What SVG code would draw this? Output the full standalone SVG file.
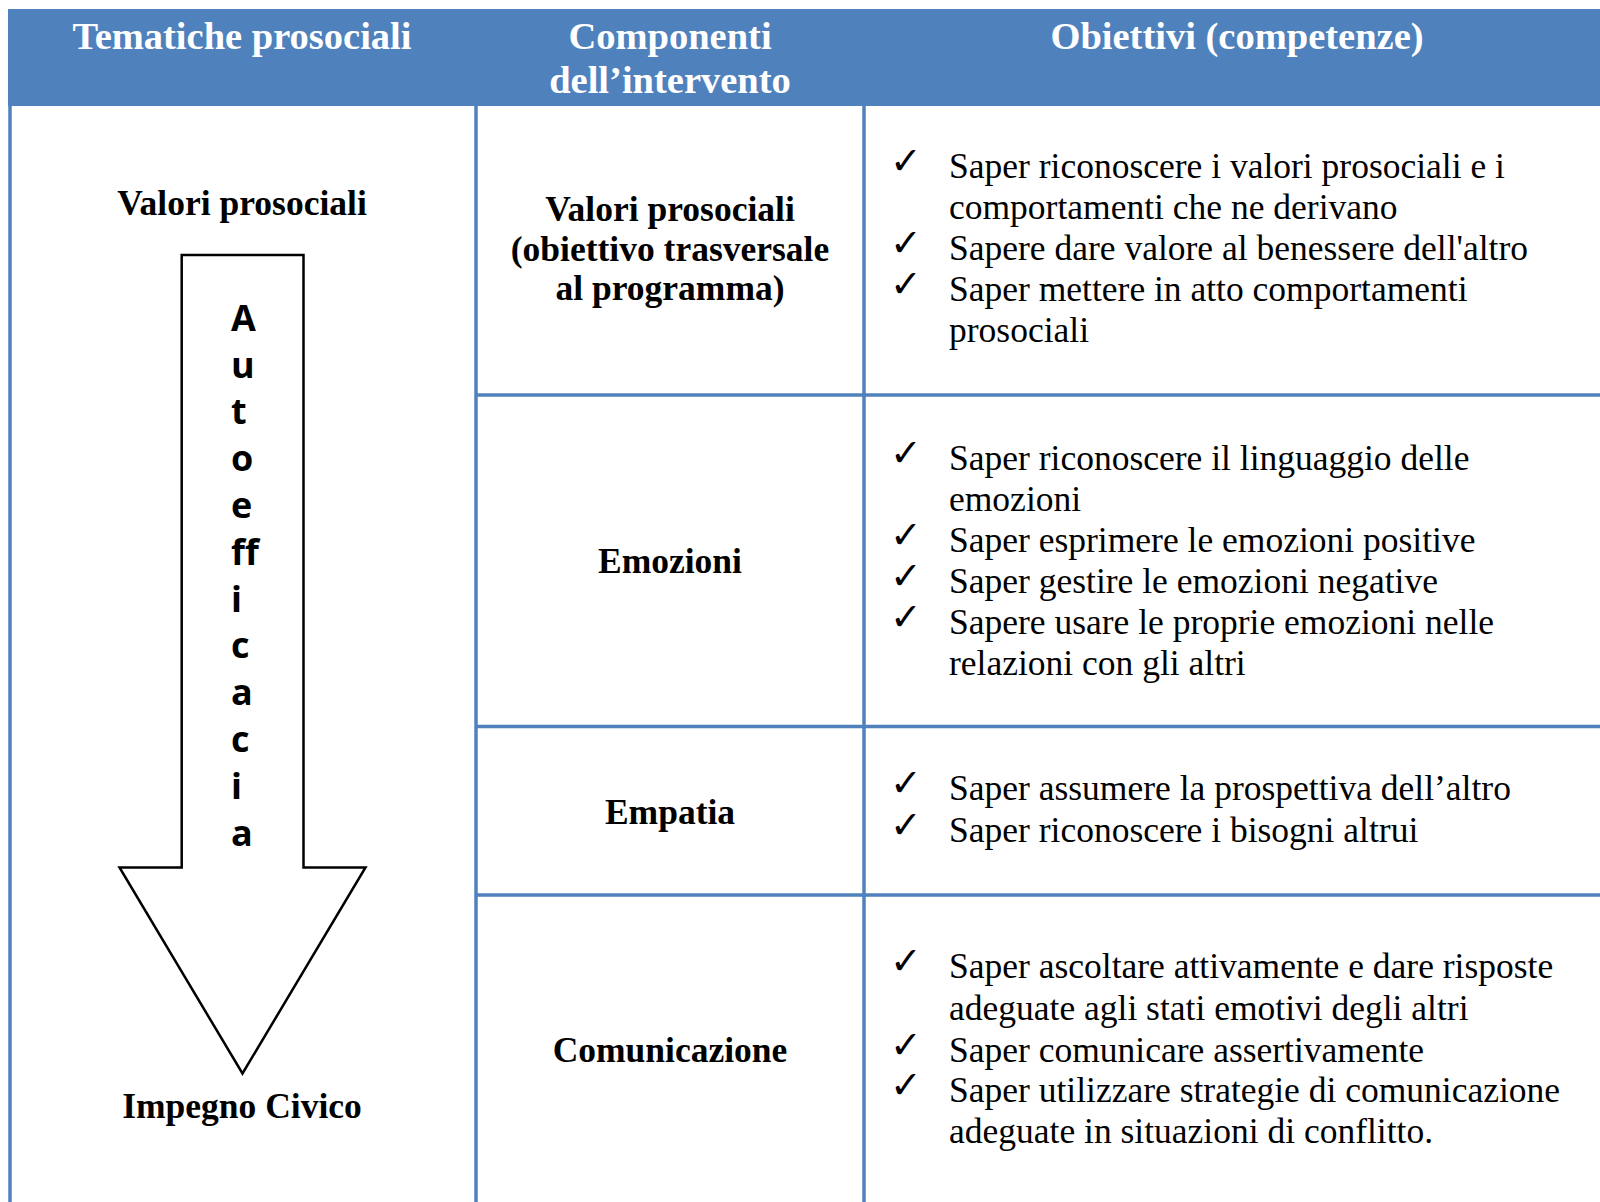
<svg xmlns="http://www.w3.org/2000/svg" width="1600" height="1202" viewBox="0 0 1600 1202">
<style>
.hdr{font-family:"Liberation Serif","Times New Roman",serif;font-weight:bold;font-size:38.5px;fill:#ffffff;text-anchor:middle}
.lbl{font-family:"Liberation Serif","Times New Roman",serif;font-weight:bold;font-size:35.5px;fill:#000000;text-anchor:middle}
.item{font-family:"Liberation Serif","Times New Roman",serif;font-size:35.5px;fill:#000000}
.chk{font-family:"DejaVu Sans",sans-serif;font-size:38px;fill:#000000}
.vert{font-family:"Open Sans","DejaVu Sans",sans-serif;font-weight:bold;font-size:36px;fill:#000000}
.grid{stroke:#4F81BD;stroke-width:3.5;fill:none}
</style>
<rect x="0" y="0" width="1600" height="1202" fill="#ffffff"/>
<g id="header">
<rect x="8" y="9" width="1592" height="97" fill="#4F81BD"/>
<text class="hdr" x="242" y="49">Tematiche prosociali</text>
<text class="hdr" x="670" y="49">Componenti</text>
<text class="hdr" x="670" y="93">dell’intervento</text>
<text class="hdr" x="1237" y="49">Obiettivi (competenze)</text>
</g>
<g id="grid">
<line class="grid" x1="10" y1="106" x2="10" y2="1202"/>
<line class="grid" x1="476" y1="106" x2="476" y2="1202"/>
<line class="grid" x1="864" y1="106" x2="864" y2="1202"/>
<line class="grid" x1="476" y1="395" x2="1600" y2="395"/>
<line class="grid" x1="476" y1="726.5" x2="1600" y2="726.5"/>
<line class="grid" x1="476" y1="895" x2="1600" y2="895"/>
</g>
<g id="tematiche">
<text class="lbl" x="242" y="215">Valori prosociali</text>
<polygon points="181.7,255 303.5,255 303.5,867.5 365.5,867.5 242.5,1073.5 119.5,867.5 181.7,867.5" fill="#ffffff" stroke="#000000" stroke-width="2.5" stroke-linejoin="miter"/>
<g class="vert">
<text x="231" y="330.7">A</text>
<text x="231" y="377.5">u</text>
<text x="231" y="424.3">t</text>
<text x="231" y="471.1">o</text>
<text x="231" y="517.9">e</text>
<text x="231" y="564.7">ff</text>
<text x="231" y="611.5">i</text>
<text x="231" y="658.3">c</text>
<text x="231" y="705.1">a</text>
<text x="231" y="751.9">c</text>
<text x="231" y="798.7">i</text>
<text x="231" y="845.5">a</text>
</g>
<text class="lbl" x="242" y="1118">Impegno Civico</text>
</g>
<g id="comp-valori">
<text class="lbl" x="670" y="221">Valori prosociali</text>
<text class="lbl" x="670" y="261">(obiettivo trasversale</text>
<text class="lbl" x="670" y="300">al programma)</text>
</g>
<g id="comp-emozioni"><text class="lbl" x="670" y="573">Emozioni</text></g>
<g id="comp-empatia"><text class="lbl" x="670" y="824">Empatia</text></g>
<g id="comp-comunicazione"><text class="lbl" x="670" y="1062">Comunicazione</text></g>
<g id="obj-valori">
<text class="chk" x="890" y="174">✓</text>
<text class="item" x="949" y="178">Saper riconoscere i valori prosociali e i</text>
<text class="item" x="949" y="219">comportamenti che ne derivano</text>
<text class="chk" x="890" y="256">✓</text>
<text class="item" x="949" y="260">Sapere dare valore al benessere dell'altro</text>
<text class="chk" x="890" y="297">✓</text>
<text class="item" x="949" y="301">Saper mettere in atto comportamenti</text>
<text class="item" x="949" y="341.5">prosociali</text>
</g>
<g id="obj-emozioni">
<text class="chk" x="890" y="466">✓</text>
<text class="item" x="949" y="470">Saper riconoscere il linguaggio delle</text>
<text class="item" x="949" y="510.5">emozioni</text>
<text class="chk" x="890" y="547.5">✓</text>
<text class="item" x="949" y="551.5">Saper esprimere le emozioni positive</text>
<text class="chk" x="890" y="589">✓</text>
<text class="item" x="949" y="593">Saper gestire le emozioni negative</text>
<text class="chk" x="890" y="629.5">✓</text>
<text class="item" x="949" y="633.5">Sapere usare le proprie emozioni nelle</text>
<text class="item" x="949" y="675">relazioni con gli altri</text>
</g>
<g id="obj-empatia">
<text class="chk" x="890" y="796">✓</text>
<text class="item" x="949" y="800">Saper assumere la prospettiva dell’altro</text>
<text class="chk" x="890" y="837.5">✓</text>
<text class="item" x="949" y="841.5">Saper riconoscere i bisogni altrui</text>
</g>
<g id="obj-comunicazione">
<text class="chk" x="890" y="974">✓</text>
<text class="item" x="949" y="978">Saper ascoltare attivamente e dare risposte</text>
<text class="item" x="949" y="1020">adeguate agli stati emotivi degli altri</text>
<text class="chk" x="890" y="1057.5">✓</text>
<text class="item" x="949" y="1061.5">Saper comunicare assertivamente</text>
<text class="chk" x="890" y="1097.5">✓</text>
<text class="item" x="949" y="1101.5">Saper utilizzare strategie di comunicazione</text>
<text class="item" x="949" y="1143">adeguate in situazioni di conflitto.</text>
</g>
</svg>
